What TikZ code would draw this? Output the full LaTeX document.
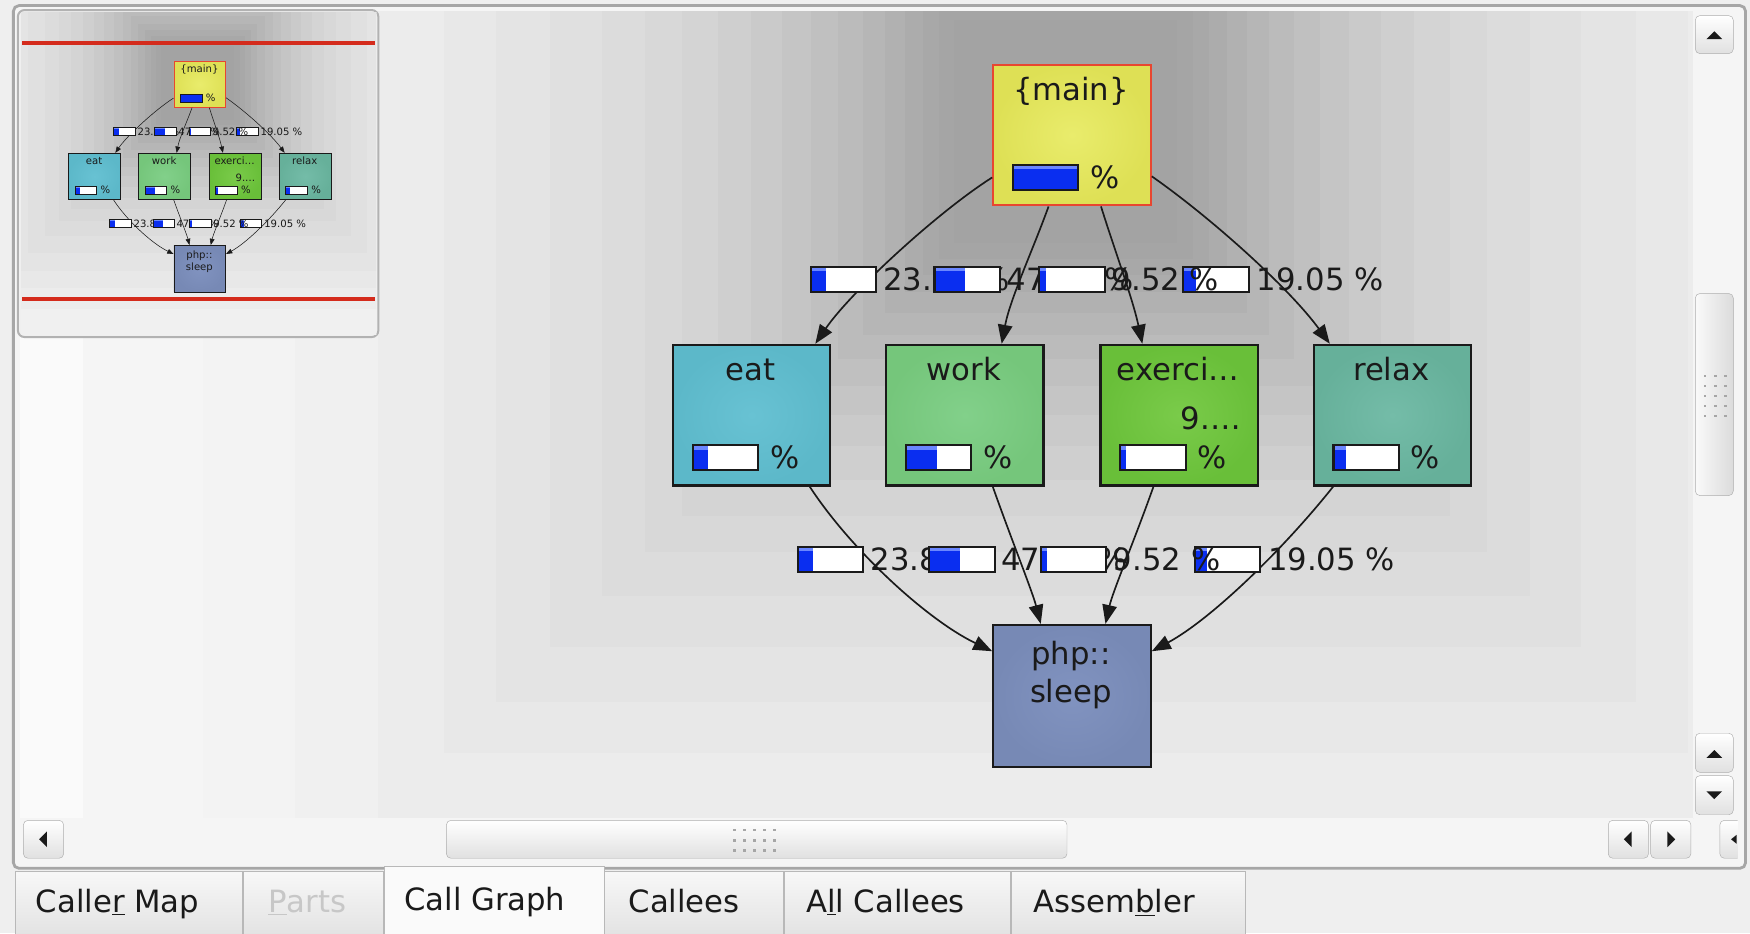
\documentclass[tikz,border=0pt]{standalone}
\usepackage{fontspec}
\setmainfont{DejaVu Sans}
\usetikzlibrary{arrows.meta}
\definecolor{winbg}{HTML}{EFEFEF}
\definecolor{mainfill}{HTML}{DEE055}
\definecolor{mainin}{HTML}{E9EC6C}
\definecolor{mainborder}{HTML}{E84630}
\definecolor{eatfill}{HTML}{5CB8C9}
\definecolor{eatin}{HTML}{68C2D3}
\definecolor{workfill}{HTML}{75C67B}
\definecolor{workin}{HTML}{82D08A}
\definecolor{exfill}{HTML}{69BF39}
\definecolor{exin}{HTML}{7ACB4A}
\definecolor{relaxfill}{HTML}{66B09A}
\definecolor{relaxin}{HTML}{74BCA8}
\definecolor{sleepfill}{HTML}{7789B5}
\definecolor{sleepin}{HTML}{8193C0}
\definecolor{barblue}{HTML}{0A2EF0}
\definecolor{barhi}{HTML}{6A86FF}
\definecolor{minired}{HTML}{D42B1C}
\definecolor{ink}{HTML}{1A1A1A}
\newcommand\cgfont{\fontsize{27.5}{33}\selectfont}
\tikzset{
  cgtext/.style={font=\cgfont, inner sep=0pt, text=ink},
  cgbox/.style={draw=ink, line width=2pt, minimum width=141pt, minimum height=126pt, inner sep=0pt, anchor=north west},
  pbarbox/.style={fill=white, minimum width=58pt, minimum height=22pt, inner sep=0pt},
  cgedge/.style={line width=1.5pt, ink, -{Triangle[length=17pt,width=13pt]}},
  sbbtn/.style={rounded corners=4pt, draw=black!32, top color=white, bottom color=black!12},
  tabi/.style={draw=black!28, top color=black!3, bottom color=black!11},
}
\newcommand\pbar[3]{%
  \node[pbarbox] (#1) at (#2) {};
  \fill[barblue] (#1.south west) rectangle ([xshift=#3pt]#1.north west);
  \fill[barhi] ([yshift=-1pt]#1.north west) rectangle ([xshift=#3pt,yshift=-4pt]#1.north west);
  \draw[line width=1.8pt, ink] (#1.south west) rectangle (#1.north east);
}
\newcommand\cgnode[6]{%
  \node[cgbox,#4] (#1) at (#2,#3) {};
  \node[cgtext,anchor=base] (#1t) at (#2+70.5,#3+33) {#5};
  \pbar{#1b}{#2+48,#3+102}{#6}
  \node[cgtext,anchor=base west] (#1p) at (#2+88,#3+112) {\%};
}
\newcommand\cgbg{%
  \fill[fill={rgb,255:red,250;green,250;blue,250}] (-600,-600) rectangle (2600,1600);
  \foreach \w/\v in {881/245,773/243,691/240,616/236,557/232,511/228,462/224,416/220,377/216,344/212,312/207,282/202,254/197,228/192,204/187,182/182,162/177,144/172,128/168,114/165,100/163}{
    \fill[fill={rgb,255:red,\v;green,\v;blue,\v}] (955-\w,118-\w) rectangle (955+\w,118+\w);
  }
}
\newcommand\cgraph[1]{%
  \cgnode{#1main}{889}{57}{draw=mainborder, inner color=mainin, outer color=mainfill}{\{main\}}{58}
  \cgnode{#1eat}{602}{308}{inner color=eatin, outer color=eatfill}{eat}{13.8}
  \cgnode{#1work}{793}{308}{inner color=workin, outer color=workfill}{work}{27.6}
  \cgnode{#1exer}{985}{308}{inner color=exin, outer color=exfill}{exerci…}{5.5}
  \node[cgtext,anchor=base east] (#1exn) at (1112,385) {9.…};
  \cgnode{#1relax}{1176}{308}{inner color=relaxin, outer color=relaxfill}{relax}{11}
  \node[cgbox, minimum height=127pt, inner color=sleepin, outer color=sleepfill] (#1sleep) at (889,559) {};
  \node[cgtext,anchor=base] (#1sl1) at (959.5,595) {php::};
  \node[cgtext,anchor=base] (#1sl2) at (959.5,629) {sleep};
  % edges
  \draw[cgedge] ([yshift=-38pt]#1main.west) .. controls (840,190) and (762,262) .. ([xshift=57pt]#1eat.north);
  \draw[cgedge] ([xshift=-21pt]#1main.south) .. controls (925,225) and (905,268) .. ([xshift=33pt]#1work.north);
  \draw[cgedge] ([xshift=26pt]#1main.south) .. controls (999,225) and (1015,268) .. ([xshift=-33pt]#1exer.north);
  \draw[cgedge] ([yshift=-37pt]#1main.east) .. controls (1085,195) and (1155,258) .. ([xshift=-56pt]#1relax.north);
  \draw[cgedge] ([xshift=52pt]#1eat.south) .. controls (762,492) and (830,555) .. ([yshift=40pt]#1sleep.west);
  \draw[cgedge] ([xshift=25pt]#1work.south) .. controls (905,480) and (925,530) .. ([xshift=-28pt]#1sleep.north);
  \draw[cgedge] ([xshift=-23pt]#1exer.south) .. controls (1018,480) and (997,530) .. ([xshift=30pt]#1sleep.north);
  \draw[cgedge] ([xshift=-53pt]#1relax.south) .. controls (1150,492) and (1085,555) .. ([yshift=40pt]#1sleep.east);
  % labels, upper row
  \pbar{#1ua}{755.5,250}{13.8}
  \node[cgtext,anchor=base west] (#1uat) at (791,260) {23.81 \%};
  \pbar{#1ub}{866.5,250}{27.6}
  \node[cgtext,anchor=base west] (#1ubt) at (902,260) {47.62 \%};
  \pbar{#1uc}{960.5,250}{5.5}
  \pbar{#1ud}{1089.5,250}{11}
  \node[cgtext,anchor=base west] (#1uct) at (996,260) {9.52 \%};
  \node[cgtext,anchor=base west] (#1udt) at (1126,260) {19.05 \%};
  % labels, lower row
  \pbar{#1la}{744,501}{13.8}
  \node[cgtext,anchor=base west] (#1lat) at (780,511) {23.81 \%};
  \pbar{#1lb}{862,501}{27.6}
  \node[cgtext,anchor=base west] (#1lbt) at (897,511) {47.62 \%};
  \pbar{#1lc}{962,501}{5.5}
  \pbar{#1ld}{1099.5,501}{11}
  \node[cgtext,anchor=base west] (#1lct) at (997,511) {9.52 \%};
  \node[cgtext,anchor=base west] (#1ldt) at (1136,511) {19.05 \%};
}
\begin{document}
\begin{tikzpicture}[x=1pt,y=-1pt]
\useasboundingbox (0,0) rectangle (1568,836);
\fill[winbg] (0,0) rectangle (1568,836);
% outer frame
\draw[rounded corners=5pt, draw=black!35, line width=2.5pt, fill=black!4] (12,5) rectangle (1564,778);
% main canvas
\begin{scope}
  \clip (18,10) rectangle (1517,733);
  \cgbg
  \cgraph{}
\end{scope}
% mini map panel
\draw[rounded corners=6pt, draw=black!30, line width=1.8pt, fill=winbg] (16,9) rectangle (339,302);
\begin{scope}
  \clip (19,11) rectangle (337,300);
  \begin{scope}[transform canvas={shift={(-137,35.6)},scale=0.329}]
    \cgbg
    \cgraph{m}
  \end{scope}
\end{scope}
\draw[line width=3.5pt, minired] (20,38.8) -- (336,38.8);
\draw[line width=3.5pt, minired] (20,268.2) -- (336,268.2);
% vertical scrollbar
\fill[black!4] (1517,10) rectangle (1556,733);
\path[sbbtn] (1519,14) rectangle (1553,48);
\fill[ink] (1529,35) -- (1543,35) -- (1536,28) -- cycle;
\path[sbbtn, left color=black!2, right color=black!14] (1519,263) rectangle (1553,444);
\foreach \gx in {1527,1536,1545}{\foreach \gy in {336,345,354,363,372}{\fill[black!35] (\gx,\gy) rectangle ++(2,2);}}
\path[sbbtn] (1519,657) rectangle (1553,692);
\fill[ink] (1529,679) -- (1543,679) -- (1536,672) -- cycle;
\path[sbbtn] (1519,695) rectangle (1553,730);
\fill[ink] (1529,709) -- (1543,709) -- (1536,716) -- cycle;
% horizontal scrollbar
\fill[black!4] (18,733) rectangle (1517,772);
\path[sbbtn] (21,735) rectangle (57,769);
\fill[ink] (35,752) -- (42,745) -- (42,759) -- cycle;
\path[sbbtn] (400,735) rectangle (956,769);
\foreach \gx in {657,666,675,684,693}{\foreach \gy in {743,752,761}{\fill[black!35] (\gx,\gy) rectangle ++(2,2);}}
\path[sbbtn] (1441,735) rectangle (1477,769);
\fill[ink] (1455,752) -- (1462,745) -- (1462,759) -- cycle;
\path[sbbtn] (1479,735) rectangle (1515,769);
\fill[ink] (1501,752) -- (1494,745) -- (1494,759) -- cycle;
\begin{scope}
  \clip (1517,733) rectangle (1557,772);
  \path[sbbtn] (1541,735) rectangle (1577,769);
  \fill[ink] (1551,752) -- (1556,748) -- (1556,756) -- cycle;
\end{scope}
% tabs
\path[tabi] (14,837) -- (14,781) -- (217,781) -- (217,837);
\path[tabi] (218,837) -- (218,781) -- (343,781) -- (343,837);
\path[tabi] (541,837) -- (541,781) -- (702,781) -- (702,837);
\path[tabi] (703,837) -- (703,781) -- (905,781) -- (905,837);
\path[tabi] (906,837) -- (906,781) -- (1116,781) -- (1116,837);
\path[draw=black!28, fill=black!2] (344,837) -- (344,776) -- (541,776) -- (541,837);
\node[cgtext,anchor=base west] (t1) at (32,818) {Calle\underline{r} Map};
\node[cgtext,anchor=base west, text=black!22] (t2) at (240,818) {\underline{P}arts};
\node[cgtext,anchor=base west] (t3) at (362,816) {Call Graph};
\node[cgtext,anchor=base west] (t4) at (563,818) {Callees};
\node[cgtext,anchor=base west] (t5) at (722,818) {A\underline{l}l Callees};
\node[cgtext,anchor=base west] (t6) at (926,818) {Assem\underline{b}ler};
\end{tikzpicture}
\end{document}
